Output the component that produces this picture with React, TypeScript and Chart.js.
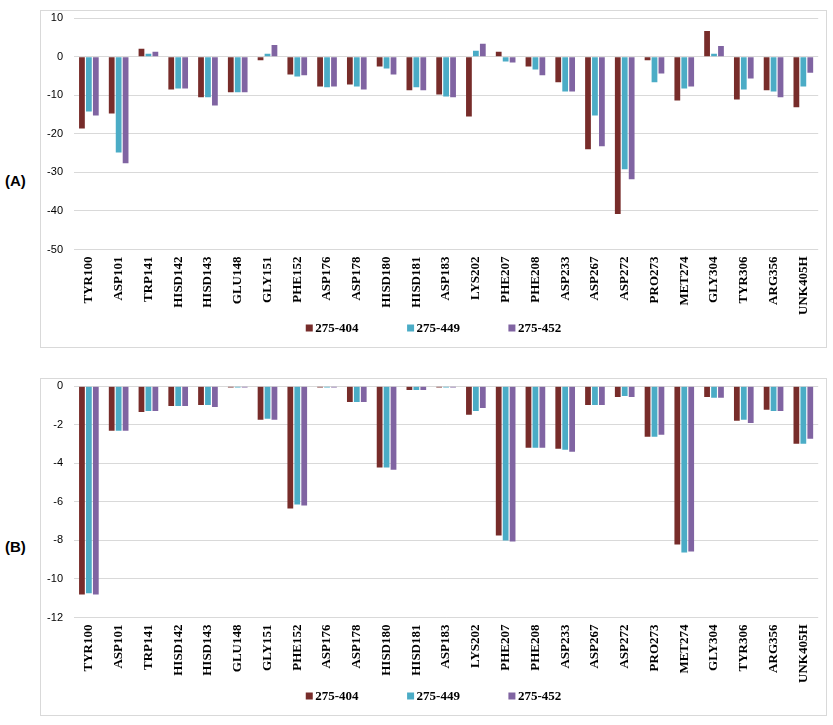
import React, { useEffect, useRef } from "react";
import { Chart, registerables } from "chart.js";

Chart.register(...registerables);

const categories = [
  "TYR100", "ASP101", "TRP141", "HISD142", "HISD143", "GLU148", "GLY151", "PHE152",
  "ASP176", "ASP178", "HISD180", "HISD181", "ASP183", "LYS202", "PHE207", "PHE208",
  "ASP233", "ASP267", "ASP272", "PRO273", "MET274", "GLY304", "TYR306", "ARG356", "UNK405H",
];

const seriesNames = ["275-404", "275-449", "275-452"];
const seriesColors = ["#772C2A", "#4BACC6", "#8064A2"];

const a404 = [-18.6, -14.7, 2.1, -8.5, -10.5, -9.2, -0.9, -4.6, -7.7, -7.2, -2.5, -8.7, -9.8, -15.5, 1.3, -2.5, -6.6, -24.0, -40.8, -0.9, -11.3, 6.7, -11.1, -8.7, -13.1];
const a449 = [-14.2, -24.8, 0.8, -8.2, -10.5, -9.2, 0.8, -5.1, -7.9, -7.7, -3.0, -7.9, -10.3, 1.6, -1.2, -3.3, -9.0, -15.2, -29.2, -6.6, -8.2, 0.8, -8.5, -9.0, -7.7];
const a452 = [-15.2, -27.6, 1.3, -8.2, -12.6, -9.2, 3.1, -4.8, -7.7, -8.5, -4.6, -8.7, -10.5, 3.4, -1.5, -4.8, -9.0, -23.2, -31.8, -4.3, -7.7, 2.8, -5.6, -10.5, -4.1];

const b404 = [-10.8, -2.31, -1.33, -1.02, -0.97, -0.06, -1.74, -6.34, -0.06, -0.81, -4.22, -0.19, -0.06, -1.48, -7.74, -3.19, -3.24, -0.97, -0.55, -2.62, -8.21, -0.55, -1.79, -1.22, -2.98];
const b449 = [-10.74, -2.31, -1.28, -1.02, -0.97, -0.06, -1.69, -6.14, -0.06, -0.81, -4.22, -0.19, -0.06, -1.28, -8.0, -3.19, -3.29, -0.97, -0.5, -2.62, -8.62, -0.6, -1.74, -1.28, -2.98];
const b452 = [-10.8, -2.31, -1.28, -1.02, -1.07, -0.06, -1.74, -6.19, -0.06, -0.81, -4.33, -0.19, -0.06, -1.12, -8.05, -3.19, -3.4, -0.97, -0.55, -2.52, -8.57, -0.6, -1.9, -1.28, -2.72];

const aTicks = { min: -50, max: 10, step: 10 };
const bTicks = { min: -12, max: 0, step: 2 };

const legendFont = "bold 13px 'Liberation Serif', serif";

const spacedLegend = {
  id: "spacedLegend",
  afterDraw(chart: any) {
    const ctx = chart.ctx;
    const ds = chart.data.datasets;
    const box = 7;
    const gap = 2.5;
    const between = 48.5;
    ctx.save();
    ctx.font = legendFont;
    ctx.textBaseline = "middle";
    ctx.textAlign = "left";
    const widths = ds.map((d: any) => box + gap + ctx.measureText(d.label).width);
    const total = widths.reduce((s: number, w: number) => s + w, 0) + between * (ds.length - 1);
    let x = chart.width / 2 - total / 2;
    const y = chart.height - 19;
    ds.forEach((d: any, i: number) => {
      ctx.fillStyle = d.backgroundColor;
      ctx.fillRect(x, y - box / 2, box, box);
      ctx.fillStyle = "#000";
      ctx.fillText(d.label, x + box + gap, y + 0.5);
      x += widths[i] + between;
    });
    ctx.restore();
  },
};

function BarPanel(props: { series: number[][]; ticks: { min: number; max: number; step: number }; top: number }) {
  const ref = useRef<HTMLCanvasElement | null>(null);
  useEffect(() => {
    if (!ref.current) return;
    const chart = new Chart(ref.current, {
      type: "bar",
      data: {
        labels: categories,
        datasets: props.series.map((d, i) => ({
          label: seriesNames[i],
          data: d,
          backgroundColor: seriesColors[i],
          borderWidth: 0,
          categoryPercentage: 0.7,
          barPercentage: 0.83,
        })),
      },
      options: {
        animation: false,
        responsive: false,
        maintainAspectRatio: false,
        layout: { padding: { top: 7.3, bottom: 2.5, left: 0, right: 3.3 } },
        plugins: {
          tooltip: { enabled: false },
          legend: { display: false },
        },
        scales: {
          x: {
            grid: { display: false, drawTicks: false },
            border: { display: false },
            ticks: {
              minRotation: 90,
              maxRotation: 90,
              autoSkip: false,
              padding: 7,
              color: "#000",
              font: { family: "'Liberation Serif', serif", size: 13, weight: "bold" },
            },
            afterFit: (s: any) => {
              s.height = 95;
            },
          },
          y: {
            min: props.ticks.min,
            max: props.ticks.max,
            grid: { color: "#D9D9D9", lineWidth: 1, drawTicks: true, tickLength: 11, tickColor: "rgba(0,0,0,0)" },
            border: { display: false },
            ticks: {
              stepSize: props.ticks.step,
              padding: 0,
              color: "#000",
              font: { family: "'Liberation Sans', sans-serif", size: 11 },
            },
            afterFit: (s: any) => {
              s.width = 33;
            },
          },
        },
      },
      plugins: [spacedLegend],
    });
    return () => chart.destroy();
  }, []);
  return (
    <div
      style={{
        position: "absolute",
        left: 40,
        top: props.top,
        width: 787,
        height: 338,
        boxSizing: "border-box",
        border: "1px solid #D9D9D9",
      }}
    >
      <canvas ref={ref} width={785} height={336} style={{ display: "block", width: 785, height: 336 }} />
    </div>
  );
}

const tagStyle: React.CSSProperties = {
  position: "absolute",
  left: 5,
  fontFamily: "'Liberation Sans', sans-serif",
  fontWeight: "bold",
  fontSize: 15,
  lineHeight: "16px",
  color: "#000",
};

export default function App() {
  return (
    <div style={{ position: "absolute", left: 0, top: 0, width: 833, height: 725, background: "#fff" }}>
      <div style={{ ...tagStyle, top: 173 }}>(A)</div>
      <div style={{ ...tagStyle, top: 539 }}>(B)</div>
      <BarPanel series={[a404, a449, a452]} ticks={aTicks} top={10} />
      <BarPanel series={[b404, b449, b452]} ticks={bTicks} top={378} />
    </div>
  );
}
